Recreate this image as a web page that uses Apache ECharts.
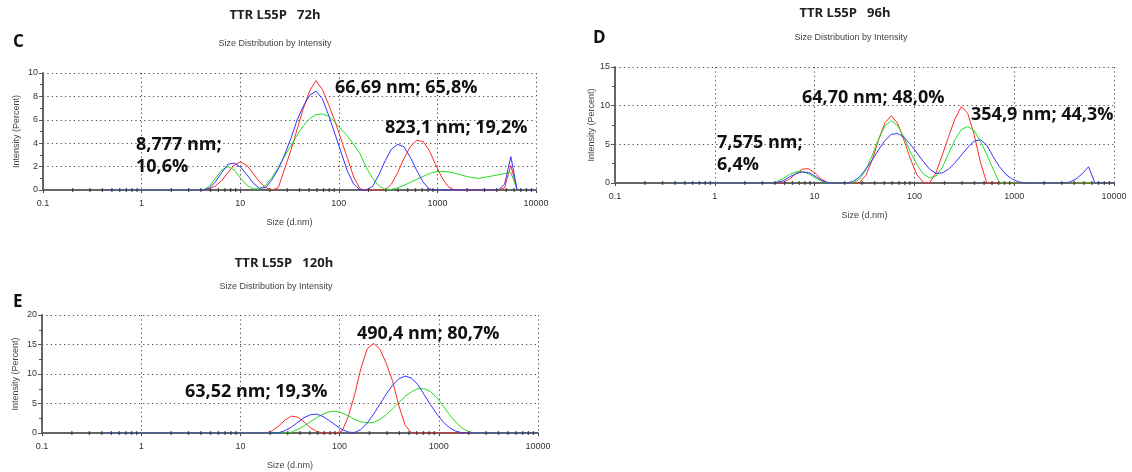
<!DOCTYPE html>
<html><head><meta charset="utf-8">
<script src="https://cdn.jsdelivr.net/npm/echarts@6/dist/echarts.min.js"></script>
<style>html,body{margin:0;padding:0;background:#fff}#c{width:1132px;height:472px}</style>
</head><body><div id="c"></div>
<script>
// Zetasizer size classes (d.nm)
const sizes = [0.4,0.4632,0.5365,0.6213,0.7195,0.8332,0.9649,1.117,1.294,1.499,
  1.736,2.01,2.328,2.696,3.122,3.615,4.187,4.849,5.615,6.503,
  7.531,8.721,10.1,11.7,13.54,15.69,18.17,21.04,24.36,28.21,
  32.67,37.84,43.82,50.75,58.77,68.06,78.82,91.28,105.7,122.4,
  141.8,164.2,190.1,220.2,255.0,295.3,342.0,396.1,458.7,531.2,
  615.1,712.4,825.0,955.4,1106,1281,1484,1718,1990,2305,
  2669,3091,3580,4145,4801,5560,6439,7456,8635,10000];

// Panel C: 72h
const c72Red = [0,0,0,0,0,0,0,0,0,0, 0,0,0,0,0,0,0,0.1,0.35,0.8,
  1.5,2.15,2.4,2.1,1.4,0.7,0.2,0,0.2,1.8, 3.4,5.2,7.0,8.5,9.35,8.6,7.3,5.9,4.3,2.7,
  1.1,0.1,0,0,0,0,0.5,1.5,2.7,3.7, 4.25,4.15,3.4,2.2,1.1,0.3,0,0,0,0,
  0,0,0,0,0.2,2.1,0,0,0,0];
const c72Green = [0,0,0,0,0,0,0,0,0,0, 0,0,0,0,0,0,0,0.3,1.0,1.7,
  2.0,1.7,1.0,0.4,0.1,0.1,0.4,1.1,1.9,2.9, 3.8,4.7,5.5,6.1,6.45,6.5,6.3,5.8,5.2,4.6,
  3.9,3.1,1.9,1.0,0.35,0.05,0.05,0.2,0.4,0.65, 0.9,1.15,1.4,1.55,1.6,1.55,1.45,1.3,1.15,1.05,
  1.0,1.1,1.2,1.3,1.4,1.5,0,0,0,0];
const c72Blue = [0,0,0,0,0,0,0,0,0,0, 0,0,0,0,0,0,0,0.15,0.7,1.5,
  2.2,2.3,1.95,1.3,0.6,0.15,0.2,0.9,1.8,3.0, 4.4,6.0,7.2,8.1,8.45,7.8,6.4,4.8,3.2,1.6,
  0.5,0,0,0.3,1.3,2.5,3.5,3.9,3.7,2.8, 1.7,0.7,0.1,0,0,0,0,0,0,0,
  0,0,0,0,0.5,2.85,0,0,0,0];

// Panel D: 96h
const d96Red = [0,0,0,0,0,0,0,0,0,0, 0,0,0,0,0,0,0,0.1,0.5,1.2,
  1.8,1.85,1.3,0.5,0.05,0,0,0,0,0.1, 1.0,3.0,5.6,7.8,8.7,7.7,5.5,3.1,1.1,0.1,
  0,1.3,3.6,6.0,8.3,9.9,9.0,6.3,2.7,0, 0,0,0,0,0,0,0,0,0,0,
  0,0,0,0,0,0,0,0,0,0];
const d96Green = [0,0,0,0,0,0,0,0,0,0, 0,0,0,0,0,0,0.15,0.6,1.1,1.45,
  1.5,1.2,0.7,0.25,0,0,0,0,0.05,0.5, 1.7,3.6,5.7,7.4,8.05,7.4,5.9,4.0,2.4,1.2,
  0.65,0.9,2.0,3.8,5.6,6.9,7.3,6.8,5.4,3.7, 1.8,0,0,0,0,0,0,0,0,0,
  0,0,0,0,0,0,0,0,0,0];
const d96Blue = [0,0,0,0,0,0,0,0,0,0, 0,0,0,0,0,0,0.05,0.3,0.8,1.2,
  1.42,1.35,0.9,0.35,0.05,0,0,0,0.2,0.8, 1.8,3.0,4.3,5.5,6.3,6.4,5.9,5.0,3.9,2.8,
  1.8,1.25,1.3,1.8,2.6,3.6,4.6,5.4,5.6,4.9, 3.4,2.1,1.1,0.5,0.15,0,0,0,0,0,
  0,0,0.1,0.5,1.2,2.1,0,0,0,0];

// Panel E: 120h
const e120Red = [0,0,0,0,0,0,0,0,0,0, 0,0,0,0,0,0,0,0,0,0,
  0,0,0,0,0,0,0,0.4,1.2,2.2, 2.85,2.7,1.9,0.9,0.25,0,0,0,0.3,2.8,
  6.5,11.0,14.3,15.2,14.2,11.8,8.8,4.6,1.3,0, 0,0,0,0,0,0,0,0,0,0,
  0,0,0,0,0,0,0,0,0,0];
const e120Green = [0,0,0,0,0,0,0,0,0,0, 0,0,0,0,0,0,0,0,0,0,
  0,0,0,0,0,0,0,0,0,0, 0.15,0.6,1.2,1.9,2.6,3.2,3.6,3.7,3.4,2.9,
  2.3,1.9,1.7,1.8,2.3,3.1,4.1,5.2,6.2,7.0, 7.5,7.5,7.0,6.0,4.6,3.1,1.8,0.8,0.25,0.05,
  0,0,0,0,0,0,0,0,0,0];
const e120Blue = [0,0,0,0,0,0,0,0,0,0, 0,0,0,0,0,0,0,0,0,0,
  0,0,0,0,0,0,0,0,0.05,0.4, 1.0,1.8,2.6,3.1,3.2,2.8,2.1,1.3,0.6,0.15,
  0.1,0.6,1.7,3.2,4.9,6.6,8.1,9.2,9.65,9.3, 8.2,6.5,4.8,3.2,1.9,0.9,0.3,0.05,0,0,
  0,0,0,0,0,0,0,0,0,0];

const xMinorTicks = [0.2,0.3,0.4,0.5,0.6,0.7,0.8,0.9, 2,3,4,5,6,7,8,9,
  20,30,40,50,60,70,80,90, 200,300,400,500,600,700,800,900, 2000,3000,4000,5000,6000,7000,8000,9000];

const panelTitles = ['TTR L55P   72h', 'TTR L55P   96h', 'TTR L55P   120h'];
const panelLetters = ['C', 'D', 'E'];
const subTitle = 'Size Distribution by Intensity';
const xName = 'Size (d.nm)';
const yName = 'Intensity (Percent)';
const annotations = [
  ['8,777 nm;', '10,6%', '66,69 nm; 65,8%', '823,1 nm; 19,2%'],
  ['7,575 nm;', '6,4%', '64,70 nm; 48,0%', '354,9 nm; 44,3%'],
  ['63,52 nm; 19,3%', '490,4 nm; 80,7%']
];

const RED = '#ff2a2a', GREEN = '#22dd22', BLUE = '#3333ff';

const panels = [
  {grid:{left:43, right:596, top:73, bottom:282}, yMax:10, yInt:2, yGap:22, s:[c72Red,c72Green,c72Blue]},
  {grid:{left:615, right:18, top:67, bottom:289}, yMax:15, yInt:5, yGap:16, s:[d96Red,d96Green,d96Blue]},
  {grid:{left:42, right:594, top:315, bottom:39}, yMax:20, yInt:5, yGap:22, s:[e120Red,e120Green,e120Blue]}
];

const grids = [], xAxes = [], yAxes = [], series = [];
const dotted = {color:'#444', width:1, type:[1.2,3.2]};
panels.forEach((p, i) => {
  grids.push(Object.assign({containLabel:false}, p.grid));
  xAxes.push({
    type:'log', logBase:10, min:0.1, max:10000, gridIndex:i,
    name:xName, nameLocation:'middle', nameGap:28,
    nameTextStyle:{fontFamily:'Liberation Sans', fontSize:9, color:'#444'},
    axisLine:{show:true, lineStyle:{color:'#666', width:2}},
    axisTick:{show:true, length:3, lineStyle:{color:'#444'}},
    axisLabel:{fontFamily:'Liberation Sans', fontSize:9, color:'#333', margin:9,
      formatter:v => String(+Number(v).toPrecision(6))},
    splitLine:{show:true, lineStyle:dotted}
  });
  yAxes.push({
    type:'value', min:0, max:p.yMax, interval:p.yInt, gridIndex:i,
    name:yName, nameLocation:'middle', nameGap:p.yGap,
    nameTextStyle:{fontFamily:'Liberation Sans', fontSize:9, color:'#444'},
    axisLine:{show:true, lineStyle:{color:'#666', width:2}},
    axisTick:{show:true, length:4, lineStyle:{color:'#555'}},
    minorTick:{show:true, splitNumber:2, length:3, lineStyle:{color:'#555'}},
    axisLabel:{fontFamily:'Liberation Sans', fontSize:9, color:'#333', margin:5},
    splitLine:{show:true, lineStyle:dotted}
  });
  [RED, GREEN, BLUE].forEach((col, k) => {
    series.push({
      type:'line', xAxisIndex:i, yAxisIndex:i, showSymbol:false, animation:false,
      lineStyle:{color:col, width:1}, itemStyle:{color:col}, z:3,
      data: sizes.map((sz, j) => [sz, p.s[k][j]])
    });
  });
  series.push({
    type:'scatter', xAxisIndex:i, yAxisIndex:i, silent:true, animation:false,
    symbol:'rect', symbolSize:[1.3,4], itemStyle:{color:'#333'}, z:6,
    data: xMinorTicks.map(v => [v, 0])
  });
});

function txt(text, x, y, font, align, fill) {
  return {type:'text', silent:true, z:10,
    style:{text:text, x:x, y:y, font:font, textAlign:align||'left', textVerticalAlign:'middle', fill:fill||'#111'}};
}
const titleFont = 'bold 13px "Open Sans"';
const letterFont = 'bold 17px "Open Sans"';
const subFont = '9px "Liberation Sans"';
const annFont = 'bold 18px "Open Sans"';
const graphics = [
  txt(panelTitles[0], 275, 15, titleFont, 'center', '#222'),
  txt(panelTitles[1], 845, 13, titleFont, 'center', '#222'),
  txt(panelTitles[2], 284, 263, titleFont, 'center', '#222'),
  txt(panelLetters[0], 13, 42, letterFont, 'left', '#111'),
  txt(panelLetters[1], 593, 38, letterFont, 'left', '#111'),
  txt(panelLetters[2], 13, 302, letterFont, 'left', '#111'),
  txt(subTitle, 275, 44, subFont, 'center', '#444'),
  txt(subTitle, 851, 38, subFont, 'center', '#444'),
  txt(subTitle, 276, 287, subFont, 'center', '#444'),
  txt(annotations[0][0], 136, 145, annFont),
  txt(annotations[0][1], 136, 167, annFont),
  txt(annotations[0][2], 335, 88, annFont),
  txt(annotations[0][3], 385, 128, annFont),
  txt(annotations[1][0], 717, 143, annFont),
  txt(annotations[1][1], 717, 165, annFont),
  txt(annotations[1][2], 802, 98, annFont),
  txt(annotations[1][3], 971, 115, annFont),
  txt(annotations[2][0], 185, 392, annFont),
  txt(annotations[2][1], 357, 334, annFont)
];

const chart = echarts.init(document.getElementById('c'), null, {renderer:'canvas'});
chart.setOption({
  animation:false,
  backgroundColor:'#ffffff',
  grid:grids, xAxis:xAxes, yAxis:yAxes, series:series, graphic:graphics
});
</script></body></html>
